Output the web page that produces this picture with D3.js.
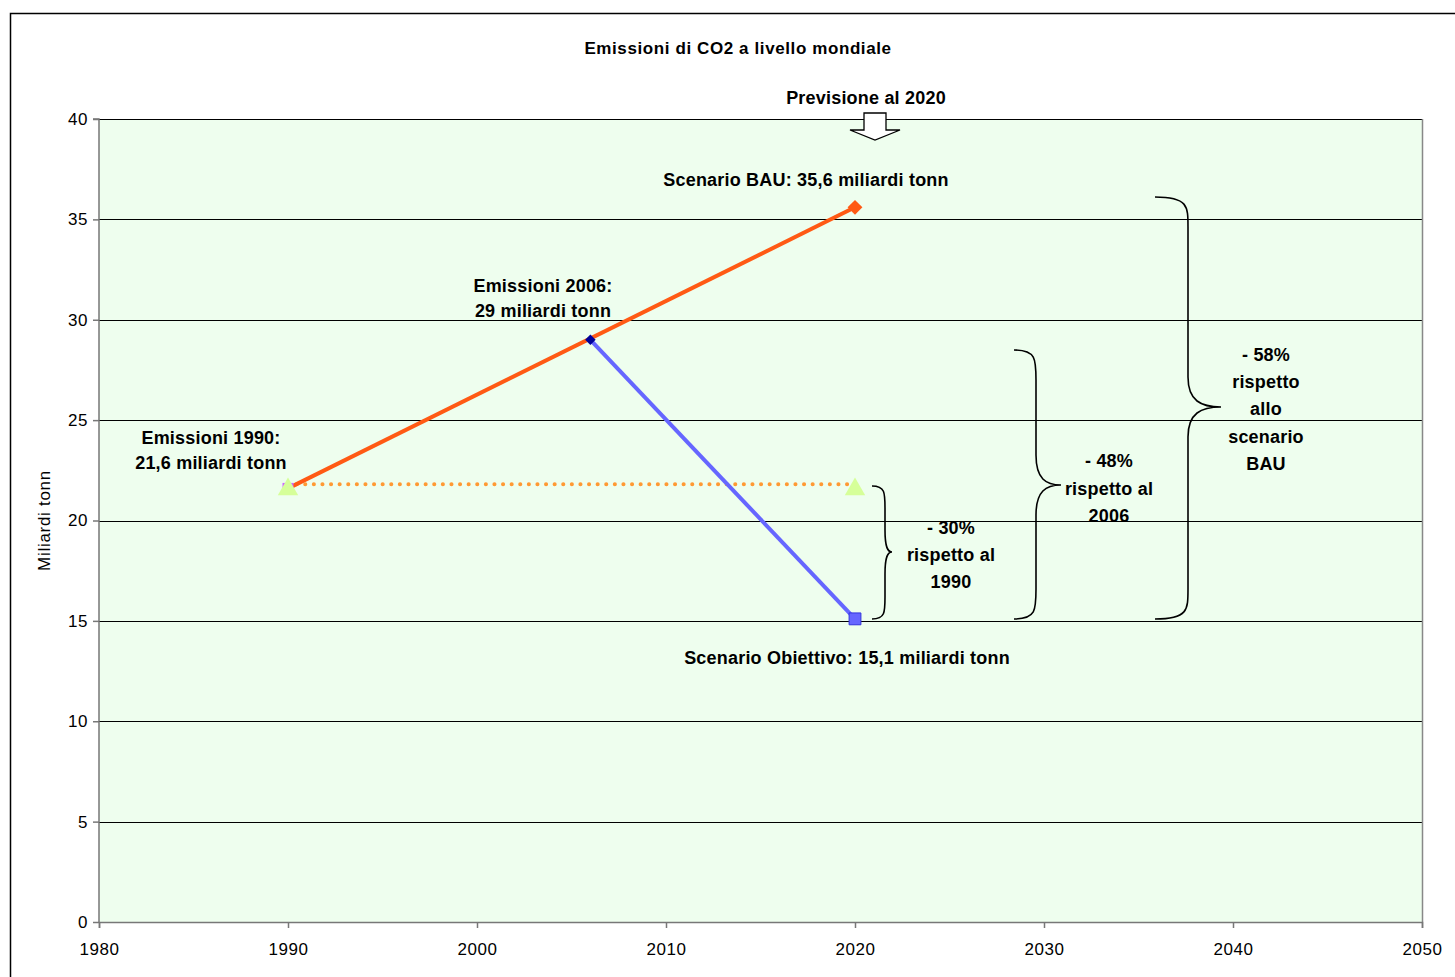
<!DOCTYPE html>
<html>
<head>
<meta charset="utf-8">
<script src="https://cdn.jsdelivr.net/npm/d3@7"></script>
<style>
  html, body { margin: 0; padding: 0; background: #fff; }
  svg { display: block; font-family: Arial, "Liberation Sans", sans-serif; }
</style>
</head>
<body>
<svg id="chart" width="1455" height="977"></svg>
<script>
// Emissioni globali di CO2 (miliardi di tonnellate)
const anniBAU = [1990, 2020];
const valoriBAU = [21.6, 35.6];
const anniObiettivo = [2006, 2020];
const valoriObiettivo = [29, 15.1];
const anniRif1990 = [1990, 2020];
const valoriRif1990 = [21.6, 21.6];
const lineaRif1990 = [21.8, 21.8];
const yTicks = [0, 5, 10, 15, 20, 25, 30, 35, 40];
const xTicks = [1980, 1990, 2000, 2010, 2020, 2030, 2040, 2050];

const svg = d3.select("#chart");
const M = { left: 99, right: 1422, top: 119, bottom: 922 };

const x = d3.scaleLinear().domain([1980, 2050]).range([M.left, M.right]);
const y = d3.scaleLinear().domain([0, 40]).range([M.bottom, M.top]);

// outer chart frame
svg.append("rect")
  .attr("x", 10.5).attr("y", 13.5)
  .attr("width", 1500).attr("height", 1000)
  .attr("fill", "#fff").attr("stroke", "#000").attr("stroke-width", 1.5);

// plot area
svg.append("rect")
  .attr("x", M.left).attr("y", M.top)
  .attr("width", M.right - M.left).attr("height", M.bottom - M.top)
  .attr("fill", "#EEFEEE");

// horizontal gridlines
svg.append("g").selectAll("line")
  .data(yTicks.filter(d => d > 0))
  .join("line")
  .attr("x1", M.left).attr("x2", M.right)
  .attr("y1", d => Math.round(y(d)) + 0.5).attr("y2", d => Math.round(y(d)) + 0.5)
  .attr("stroke", "#000").attr("stroke-width", 1);

// right border of plot area
svg.append("line")
  .attr("x1", M.right + 0.5).attr("x2", M.right + 0.5)
  .attr("y1", M.top).attr("y2", M.bottom)
  .attr("stroke", "#888").attr("stroke-width", 1.5);

// axes
const yAxis = svg.append("g")
  .attr("transform", `translate(${M.left},0)`)
  .call(d3.axisLeft(y).tickValues(yTicks).tickSize(6).tickPadding(5).tickFormat(d3.format("d")));
const xAxis = svg.append("g")
  .attr("transform", `translate(0,${M.bottom})`)
  .call(d3.axisBottom(x).tickValues(xTicks).tickSize(6).tickPadding(15).tickFormat(d3.format("d")));
[yAxis, xAxis].forEach(g => {
  g.select(".domain").attr("stroke", "#777").attr("stroke-width", 1.5);
  g.selectAll(".tick line").attr("stroke", "#777").attr("stroke-width", 1.5);
  g.selectAll(".tick text").attr("fill", "#000").style("font-size", "17px")
    .style("letter-spacing", "0.6px")
    .style("font-family", "Arial, 'Liberation Sans', sans-serif");
});
yAxis.select(".domain").attr("d", `M-6,${M.top}H0V${M.bottom}`);

// axis title
svg.append("text")
  .attr("transform", `translate(50,${(M.top + M.bottom) / 2}) rotate(-90)`)
  .attr("text-anchor", "middle")
  .style("font-size", "17px").style("letter-spacing", "0.7px")
  .text("Miliardi tonn");

// chart title
svg.append("text")
  .attr("x", 738).attr("y", 54)
  .attr("text-anchor", "middle")
  .style("font-size", "17px").style("font-weight", "bold").style("letter-spacing", "0.6px")
  .text("Emissioni di CO2 a livello mondiale");

// 1990 reference (dotted)
svg.append("path")
  .datum(anniRif1990.map((a, i) => [a, lineaRif1990[i]]))
  .attr("d", d3.line().x(d => x(d[0])).y(d => y(d[1])))
  .attr("fill", "none").attr("stroke", "#FF9933")
  .attr("stroke-width", 4).attr("stroke-linecap", "round")
  .attr("stroke-dasharray", "0.1 8.5");

// BAU scenario
const bau = anniBAU.map((a, i) => [a, valoriBAU[i]]);
svg.append("path")
  .datum(bau)
  .attr("d", d3.line().x(d => x(d[0])).y(d => y(d[1])))
  .attr("fill", "none").attr("stroke", "#FF5A14").attr("stroke-width", 4);

// target scenario
const obiettivo = anniObiettivo.map((a, i) => [a, valoriObiettivo[i]]);
svg.append("path")
  .datum(obiettivo)
  .attr("d", d3.line().x(d => x(d[0])).y(d => y(d[1])))
  .attr("fill", "none").attr("stroke", "#6666FF").attr("stroke-width", 4);

// markers
const sym = (type, size) => d3.symbol().type(type).size(size)();
// 1990 BAU point (square)
svg.append("path")
  .attr("transform", `translate(${x(bau[0][0])},${y(bau[0][1])})`)
  .attr("d", sym(d3.symbolSquare, 120))
  .attr("fill", "#CC66FF");
// 2020 BAU point (diamond = rotated square)
svg.append("path")
  .attr("transform", `translate(${x(bau[1][0])},${y(bau[1][1])}) rotate(45)`)
  .attr("d", sym(d3.symbolSquare, 110))
  .attr("fill", "#FF5A14");
// 2006 point
svg.append("path")
  .attr("transform", `translate(${x(obiettivo[0][0])},${y(obiettivo[0][1])}) rotate(45)`)
  .attr("d", sym(d3.symbolSquare, 55))
  .attr("fill", "#000099");
// 2020 target point
svg.append("path")
  .attr("transform", `translate(${x(obiettivo[1][0])},${y(obiettivo[1][1])})`)
  .attr("d", sym(d3.symbolSquare, 140))
  .attr("fill", "#6666FF").attr("stroke", "#3333DD").attr("stroke-width", 1);
// 1990 reference triangles
svg.append("g").selectAll("path")
  .data(anniRif1990.map((a, i) => [a, valoriRif1990[i]]))
  .join("path")
  .attr("transform", d => `translate(${x(d[0])},${y(d[1]) + 1})`)
  .attr("d", sym(d3.symbolTriangle, 180))
  .attr("fill", "#D6FF99");

// text annotations
function label(lines, cx, y0, dy) {
  const t = svg.append("text")
    .attr("text-anchor", "middle")
    .style("font-size", "18px").style("font-weight", "bold").style("letter-spacing", "0.2px");
  lines.forEach((s, i) => t.append("tspan").attr("x", cx).attr("y", y0 + i * dy).text(s));
}
label(["Previsione al 2020"], 866, 104, 0);
label(["Scenario BAU: 35,6 miliardi tonn"], 806, 186, 0);
label(["Emissioni 2006:", "29 miliardi tonn"], 543, 292, 25);
label(["Emissioni 1990:", "21,6 miliardi tonn"], 211, 444, 25);
label(["Scenario Obiettivo: 15,1 miliardi tonn"], 847, 664, 0);
label(["- 30%", "rispetto al", "1990"], 951, 534, 27);
label(["- 48%", "rispetto al", "2006"], 1109, 467, 27.5);
label(["- 58%", "rispetto", "allo", "scenario", "BAU"], 1266, 361, 27.2);

// block arrow pointing down to 2020
const ax = x(2020) + 20;
svg.append("path")
  .attr("d", `M${ax - 11},113 H${ax + 11} V130 H${ax + 25} L${ax},140 L${ax - 25},130 H${ax - 11} Z`)
  .attr("fill", "#fff").attr("stroke", "#000").attr("stroke-width", 1.3);

// right curly braces
function brace(x0, xs, xt, yTop, yBot, yMid) {
  const r = Math.min(30, (yMid - yTop) / 3);
  const p = d3.path();
  p.moveTo(x0, yTop);
  p.bezierCurveTo(xs, yTop, xs, yTop + r * 0.3, xs, yTop + r);
  p.lineTo(xs, yMid - r);
  p.bezierCurveTo(xs, yMid - r * 0.2, xs + (xt - xs) * 0.4, yMid, xt, yMid);
  p.bezierCurveTo(xs + (xt - xs) * 0.4, yMid, xs, yMid + r * 0.2, xs, yMid + r);
  p.lineTo(xs, yBot - r);
  p.bezierCurveTo(xs, yBot - r * 0.3, xs, yBot, x0, yBot);
  svg.append("path").attr("d", p.toString())
    .attr("fill", "none").attr("stroke", "#000").attr("stroke-width", 1.6);
}
brace(872, 885, 892, 486, 619, 552);
brace(1014, 1036, 1061, 350, 619, 485);
brace(1155, 1188, 1221, 197, 619, 407);
</script>
</body>
</html>
